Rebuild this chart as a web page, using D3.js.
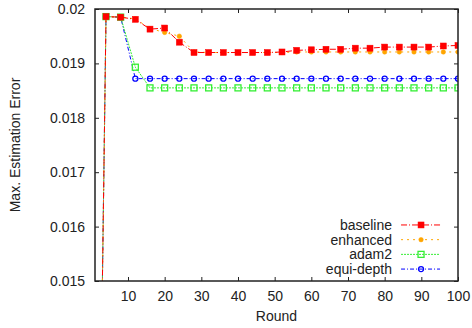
<!DOCTYPE html>
<html>
<head>
<meta charset="utf-8">
<script src="https://cdn.jsdelivr.net/npm/d3@7"></script>
<style>
  body { margin: 0; background: #fff; }
  svg { display: block; font-family: "Liberation Sans", Arial, sans-serif; }
</style>
</head>
<body>
<svg id="chart"></svg>
<script>
// x positions of the samples
const rounds = [3, 4, 8, 12, 16, 20, 24, 28, 32, 36, 40, 44, 48, 52, 56, 60, 64, 68, 72, 76, 80, 84, 88, 92, 96, 100];

const baseline = [0.0149, 0.01986, 0.01985, 0.01981, 0.01963, 0.01965, 0.01939, 0.01920, 0.01920, 0.01920, 0.01920, 0.01920, 0.01920,
  0.01921, 0.01924, 0.01925, 0.01926, 0.01926, 0.01928, 0.01928, 0.01930, 0.01930, 0.01930, 0.01930, 0.01932, 0.01933];
const enhanced = [0.0149, 0.01986, 0.01985, 0.01982, 0.01964, 0.01957, 0.01950, 0.01921, 0.01920, 0.01920, 0.01920, 0.01920, 0.01920,
  0.01920, 0.01921, 0.01921, 0.01921, 0.01921, 0.01921, 0.01921, 0.01921, 0.01921, 0.01921, 0.01921, 0.01921, 0.01921];
const adam2 = [0.0149, 0.01986, 0.01985, 0.01893, 0.01855, 0.01855, 0.01855, 0.01855, 0.01855, 0.01855, 0.01855, 0.01855, 0.01855,
  0.01855, 0.01855, 0.01855, 0.01855, 0.01855, 0.01855, 0.01855, 0.01855, 0.01855, 0.01855, 0.01855, 0.01855, 0.01855];
const equiDepth = [0.0149, 0.01986, 0.01985, 0.01872, 0.01872, 0.01872, 0.01872, 0.01872, 0.01872, 0.01872, 0.01872, 0.01872, 0.01872,
  0.01872, 0.01872, 0.01872, 0.01872, 0.01872, 0.01872, 0.01872, 0.01872, 0.01872, 0.01872, 0.01872, 0.01872, 0.01872];

const xTicks = [10, 20, 30, 40, 50, 60, 70, 80, 90, 100];
const yTicks = [0.015, 0.016, 0.017, 0.018, 0.019, 0.02];
const yTickLabels = ['0.015', '0.016', '0.017', '0.018', '0.019', '0.02'];

const series = [
  { name: 'baseline', values: baseline, color: '#ff0000', dash: '6,2,1,2', marker: 'square', filled: true, size: 6 },
  { name: 'enhanced', values: enhanced, color: '#ffa500', dash: '2,4', marker: 'circle', filled: true, size: 4.5 },
  { name: 'adam2', values: adam2, color: '#33ee33', dash: '2,1', marker: 'square', filled: false, size: 6 },
  { name: 'equi-depth', values: equiDepth, color: '#0000ff', dash: '4,2,1,2', marker: 'circle', filled: false, size: 5 }
];

const W = 472, H = 328;
const margin = { top: 9, right: 14, bottom: 47, left: 95 };
const width = W - margin.left - margin.right;
const height = H - margin.top - margin.bottom;

const svg = d3.select('#chart').attr('width', W).attr('height', H);
svg.append('rect').attr('width', W).attr('height', H).attr('fill', '#fff');

const g = svg.append('g').attr('transform', `translate(${margin.left},${margin.top})`);

const x = d3.scaleLinear().domain([1, 100]).range([0, width]);
const y = d3.scaleLinear().domain([0.015, 0.02]).range([height, 0]);

g.append('clipPath').attr('id', 'clip')
  .append('rect').attr('width', width).attr('height', height);

// axes, ticks point inward, mirrored on top and right
const fmt = (d) => yTickLabels[yTicks.indexOf(d)];
g.append('g').attr('transform', `translate(0,${height})`)
  .call(d3.axisBottom(x).tickValues(xTicks).tickSizeInner(-4).tickSizeOuter(0).tickPadding(10))
  .call(a => a.select('.domain').remove());
g.append('g')
  .call(d3.axisTop(x).tickValues(xTicks).tickSizeInner(-4).tickSizeOuter(0).tickFormat(''))
  .call(a => a.select('.domain').remove());
g.append('g')
  .call(d3.axisLeft(y).tickValues(yTicks).tickFormat(fmt).tickSizeInner(-4).tickSizeOuter(0).tickPadding(10))
  .call(a => a.select('.domain').remove());
g.append('g').attr('transform', `translate(${width},0)`)
  .call(d3.axisRight(y).tickValues(yTicks).tickSizeInner(-4).tickSizeOuter(0).tickFormat(''))
  .call(a => a.select('.domain').remove());

g.selectAll('.tick text').attr('font-size', 14).attr('font-family', '"Liberation Sans", Arial, sans-serif').attr('fill', '#222');
g.selectAll('.tick line').attr('stroke', '#222');

const line = d3.line().x((d, i) => x(rounds[i])).y(d => y(d));

function drawMarker(sel, s) {
  if (s.marker === 'square') {
    sel.append('rect')
      .attr('x', -s.size / 2).attr('y', -s.size / 2)
      .attr('width', s.size).attr('height', s.size)
      .attr('fill', s.filled ? s.color : 'none')
      .attr('stroke', s.color).attr('stroke-width', s.filled ? 0.5 : 1.3);
  } else {
    sel.append('circle')
      .attr('r', s.size / 2)
      .attr('fill', s.filled ? s.color : 'none')
      .attr('stroke', s.color).attr('stroke-width', s.filled ? 0.5 : 1.3);
  }
}

const plot = g.append('g').attr('clip-path', 'url(#clip)');
series.slice().reverse().forEach(s => {
  plot.append('path')
    .datum(s.values)
    .attr('d', line)
    .attr('fill', 'none')
    .attr('stroke', s.color)
    .attr('stroke-width', 1)
    .attr('stroke-dasharray', s.dash);
  plot.selectAll(null)
    .data(s.values.map((v, i) => [rounds[i], v]).filter(d => d[1] >= 0.015))
    .enter().append('g')
    .attr('transform', d => `translate(${x(d[0])},${y(d[1])})`)
    .each(function () { drawMarker(d3.select(this), s); });
});

// frame
g.append('rect').attr('width', width).attr('height', height)
  .attr('fill', 'none').attr('stroke', '#222').attr('stroke-width', 1.5);

// legend, bottom right inside the frame
const legend = g.append('g').attr('transform', `translate(${x(83.1)},${y(0.01603)})`);
series.forEach((s, i) => {
  const row = legend.append('g').attr('transform', `translate(0,${i * 14.7})`);
  row.append('text').attr('x', -4).attr('dy', '0.35em').attr('text-anchor', 'end')
    .attr('font-size', 14).attr('fill', '#222').text(s.name);
  row.append('line').attr('x1', 5).attr('x2', 44)
    .attr('stroke', s.color).attr('stroke-width', 1).attr('stroke-dasharray', s.dash);
  drawMarker(row.append('g').attr('transform', 'translate(25,0)'), s);
});

// axis titles
svg.append('text')
  .attr('x', margin.left + x(50.5)).attr('y', 321)
  .attr('text-anchor', 'middle').attr('font-size', 14).attr('fill', '#222')
  .text('Round');
svg.append('text')
  .attr('transform', `translate(20,${margin.top + height / 2}) rotate(-90)`)
  .attr('text-anchor', 'middle').attr('font-size', 14).attr('fill', '#222')
  .text('Max. Estimation Error');
</script>
</body>
</html>
